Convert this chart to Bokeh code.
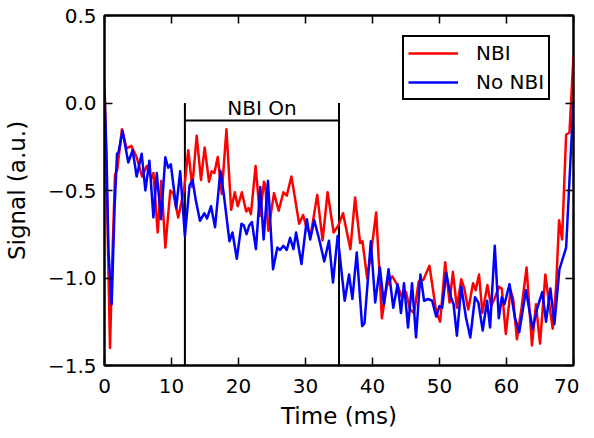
from bokeh.plotting import figure
from bokeh.models import (Range1d, FixedTicker, CustomJSTickFormatter, LinearAxis,
                          Legend, LegendItem)
from bokeh.core.properties import value
from bokeh.embed import file_html
from bokeh.resources import INLINE

FONT = "DejaVu Sans"

# ---- data ----
nbi_t = [0.0, 0.3, 0.82, 1.2, 1.57, 1.9, 2.6, 3.3, 4.0, 4.8, 5.6, 6.3, 7.0, 7.3, 7.94, 8.48,
         9.08, 9.82, 10.3, 11.0, 11.9, 12.5, 13.1, 13.76, 14.4, 14.95, 15.6, 16.0, 16.4, 16.9,
         17.5, 18.2, 18.9, 19.45, 19.9, 20.5, 21.15, 21.5, 21.85, 22.55, 23.2, 23.8, 24.0,
         24.45, 25.3, 26.0, 26.7, 27.2, 27.9, 28.5, 29.05, 29.65, 30.2, 30.8, 31.75, 32.55,
         33.3, 34.2, 34.9, 35.6, 36.7, 37.4, 38.15, 38.5, 39.2, 39.8, 40.55, 41.4, 42.1, 42.95,
         43.7, 44.4, 45.0, 45.6, 46.2, 46.9, 47.6, 48.5, 49.5, 50.1, 50.85, 51.5, 52.0, 52.6,
         53.25, 53.7, 54.3, 55.0, 55.4, 55.9, 56.4, 57.15, 57.7, 58.2, 58.9, 59.3, 59.9, 60.6,
         61.0, 61.55, 62.25, 63.0, 63.8, 64.4, 65.0, 65.8, 66.2, 66.9, 67.4, 67.85, 68.3, 68.9,
         69.4, 70.0]
nbi_y = [0.13, -0.4, -1.40, -0.85, -0.41, -0.38, -0.15, -0.26, -0.245, -0.31, -0.42, -0.36,
         -0.43, -0.40, -0.74, -0.445, -0.826, -0.5, -0.52, -0.654, -0.49, -0.27, -0.48, -0.187,
         -0.44, -0.254, -0.45, -0.39, -0.40, -0.308, -0.52, -0.15, -0.61, -0.51, -0.59, -0.51,
         -0.62, -0.60, -0.635, -0.36, -0.645, -0.45, -0.47, -0.73, -0.515, -0.616, -0.51, -0.53,
         -0.42, -0.56, -0.69, -0.64, -0.72, -0.75, -0.525, -0.785, -0.51, -0.74, -0.70, -0.63,
         -0.835, -0.54, -0.80, -0.79, -1.0, -0.85, -0.626, -1.23, -1.05, -0.99, -1.04, -1.11,
         -1.08, -1.18, -1.20, -1.02, -1.01, -0.93, -1.19, -1.25, -0.91, -1.14, -0.965, -1.17,
         -1.007, -1.06, -1.18, -1.03, -1.07, -0.98, -1.20, -1.04, -1.16, -1.12, -1.05, -1.06,
         -1.32, -1.07, -1.12, -1.35, -1.17, -0.94, -1.385, -1.15, -1.375, -0.98, -1.10, -1.29,
         -1.05, -0.67, -0.78, -0.18, -0.17, 0.27]

nonbi_t = [0.0, 0.3, 0.6, 1.07, 1.5, 1.87, 2.1, 2.7, 3.55, 4.2, 4.8, 5.55, 6.1, 6.7, 7.3, 7.8,
           8.43, 9.08, 9.5, 9.9, 10.7, 11.3, 12.0, 12.7, 13.15, 13.6, 14.25, 14.9, 15.3, 15.9,
           16.5, 17.3, 17.8, 18.65, 19.1, 19.75, 20.45, 20.8, 21.2, 21.6, 22.0, 22.6, 23.25,
           23.75, 24.4, 25.15, 25.8, 26.2, 26.7, 27.2, 27.7, 28.2, 28.6, 29.4, 30.2, 30.7, 31.3,
           32.05, 32.8, 33.5, 34.1, 34.8, 35.85, 36.5, 37.0, 37.65, 38.45, 38.8, 39.75, 40.4,
           41.1, 41.7, 42.4, 43.1, 43.75, 44.25, 44.7, 45.3, 45.9, 46.5, 47.15, 47.7, 48.3, 48.9,
           49.5, 50.0, 50.4, 51.0, 51.7, 52.1, 52.6, 53.25, 53.95, 54.6, 55.3, 55.8, 56.45, 57.1,
           57.55, 58.25, 58.85, 59.3, 59.7, 60.45, 61.25, 61.9, 62.9, 63.9, 64.6, 65.35, 65.9,
           66.55, 67.15, 67.9, 68.9, 69.4, 69.9, 70.0]
nonbi_y = [0.07, -0.3, -0.85, -1.15, -0.6, -0.29, -0.28, -0.16, -0.34, -0.27, -0.42, -0.29,
           -0.50, -0.33, -0.654, -0.40, -0.664, -0.31, -0.37, -0.35, -0.60, -0.39, -0.76, -0.47,
           -0.44, -0.55, -0.673, -0.63, -0.66, -0.59, -0.71, -0.387, -0.52, -0.79, -0.74, -0.89,
           -0.69, -0.70, -0.75, -0.70, -0.68, -0.835, -0.48, -0.78, -0.445, -0.95, -0.826, -0.84,
           -0.816, -0.84, -0.77, -0.835, -0.74, -0.92, -0.664, -0.78, -0.67, -0.78, -0.905,
           -0.787, -1.026, -0.76, -1.13, -0.98, -1.12, -0.854, -1.275, -1.26, -0.79, -1.14, -0.94,
           -1.15, -0.95, -1.17, -1.035, -1.20, -1.03, -1.283, -1.03, -1.34, -0.98, -1.13, -1.12,
           -1.13, -1.22, -1.16, -1.17, -0.97, -1.11, -1.15, -1.33, -1.05, -1.226, -1.34, -1.11,
           -1.14, -1.30, -1.13, -1.283, -0.816, -1.23, -1.11, -1.15, -1.035, -1.226, -1.31, -1.07,
           -1.29, -1.17, -1.08, -1.25, -1.06, -1.264, -0.95, -0.826, -0.44, -0.06, 0.0]

series_labels = ["NBI", "No NBI"]
series_colors = ["#ff0000", "#0000ff"]

nbi_on_start = 12.0
nbi_on_end = 35.0
bracket_level = -0.1
bracket_top = 0.0
nbi_on_label = "NBI On"

x_ticks = [0, 10, 20, 30, 40, 50, 60, 70]
y_ticks = [-1.5, -1.0, -0.5, 0.0, 0.5]
x_label = "Time (ms)"
y_label = "Signal (a.u.)"

# ---- figure ----
FW, FH = 469, 350
p = figure(frame_width=FW, frame_height=FH, output_backend="svg", toolbar_location=None,
           x_range=Range1d(0, 70), y_range=Range1d(-1.5, 0.5),
           min_border_left=103, min_border_right=6, min_border_top=15, min_border_bottom=10)
p.background_fill_color = "white"
p.border_fill_color = "white"
p.grid.visible = False
p.outline_line_color = "black"
p.outline_line_width = 2

xfmt = CustomJSTickFormatter(code="return tick.toFixed(0).replace('-', '\u2212');")
yfmt = CustomJSTickFormatter(code="return tick.toFixed(1).replace('-', '\u2212');")
blank = CustomJSTickFormatter(code="return '';")

def style_axis(ax):
    ax.axis_line_color = "black"
    ax.axis_line_width = 2
    ax.major_tick_in = 8
    ax.major_tick_out = 0
    ax.major_tick_line_width = 1.5
    ax.major_tick_line_color = "black"
    ax.minor_tick_line_color = None
    ax.major_label_text_font = FONT
    ax.major_label_text_font_size = "20px"
    ax.major_label_text_color = "black"
    ax.axis_label_text_font = FONT
    ax.axis_label_text_font_size = "23px"
    ax.axis_label_text_font_style = "normal"
    ax.axis_label_text_color = "black"

xa = p.xaxis[0]
xa.ticker = FixedTicker(ticks=x_ticks)
xa.formatter = xfmt
style_axis(xa)
xa.major_label_standoff = 13
xa.axis_label = x_label
xa.axis_label_standoff = 7

ya = p.yaxis[0]
ya.ticker = FixedTicker(ticks=y_ticks)
ya.formatter = yfmt
style_axis(ya)
ya.major_label_standoff = 8
ya.axis_label = y_label
ya.axis_label_standoff = 15

top = LinearAxis(ticker=FixedTicker(ticks=x_ticks), formatter=blank)
style_axis(top)
top.major_label_standoff = 0
top.major_label_text_font_size = "0px"
p.add_layout(top, "above")

right = LinearAxis(ticker=FixedTicker(ticks=y_ticks), formatter=blank)
style_axis(right)
right.major_label_standoff = 0
right.major_label_text_font_size = "0px"
p.add_layout(right, "right")

# ---- NBI On bracket ----
p.segment(x0=[nbi_on_start, nbi_on_end, nbi_on_start],
          y0=[-1.5, -1.5, bracket_level],
          x1=[nbi_on_start, nbi_on_end, nbi_on_end],
          y1=[bracket_top, bracket_top, bracket_level],
          line_color="black", line_width=2)
p.text(x=[(nbi_on_start + nbi_on_end) / 2], y=[bracket_level], text=[nbi_on_label],
       text_font=value(FONT), text_font_size="20px", text_align="center",
       text_baseline="bottom", y_offset=-1, text_color="black")

# ---- series ----
r1 = p.line(nbi_t, nbi_y, line_color=series_colors[0], line_width=2.5, line_join="round")
r2 = p.line(nonbi_t, nonbi_y, line_color=series_colors[1], line_width=2.5, line_join="round")

LW, LH = 147, 68
legend = Legend(items=[LegendItem(label=series_labels[0], renderers=[r1]),
                       LegendItem(label=series_labels[1], renderers=[r2])],
                location=(FW - 24 - LW, FH - 17 - LH))
legend.border_line_color = "black"
legend.border_line_alpha = 1
legend.border_line_width = 2
legend.background_fill_color = "white"
legend.background_fill_alpha = 1
legend.label_text_font = FONT
legend.label_text_font_size = "20px"
legend.label_text_color = "black"
legend.glyph_width = 50
legend.label_standoff = 18
legend.padding = 4
legend.spacing = 5
legend.margin = 0
p.add_layout(legend, "center")

open("out.html", "w").write(file_html(p, INLINE))
